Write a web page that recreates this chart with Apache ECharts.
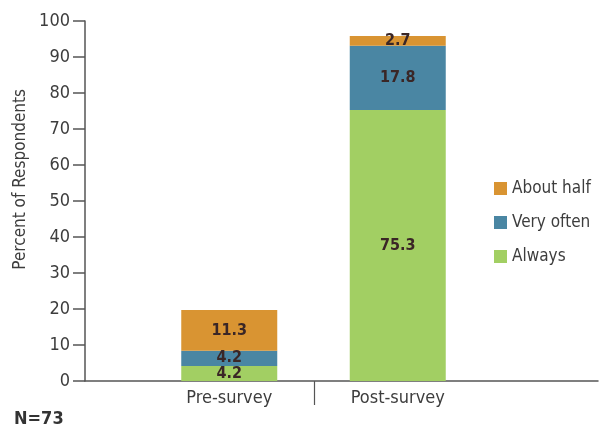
<!DOCTYPE html>
<html>
<head>
<meta charset="utf-8">
<script src="https://cdn.jsdelivr.net/npm/echarts@6/dist/echarts.min.js"></script>
<style>
  html, body { margin: 0; padding: 0; background: #fff; }
  #chart { width: 603px; height: 429px; }
</style>
</head>
<body>
<div id="chart"></div>
<script>
// Survey responses, percent of respondents per answer
const categories = ['Pre-survey', 'Post-survey'];
const always = [4.2, 75.3];
const veryOften = [4.2, 17.8];
const aboutHalf = [11.3, 2.7];
const yTicks = [0, 10, 20, 30, 40, 50, 60, 70, 80, 90, 100];

const FONT = '"Liberation Sans Narrow", "DejaVu Sans Condensed", sans-serif';
const AXIS = '#555';
const TEXT = '#3d3d3d';
const LABEL = '#3a2626';

const chart = echarts.init(document.getElementById('chart'), null, { renderer: 'canvas' });

function seg(name, data, color) {
  return {
    name: name,
    type: 'bar',
    stack: 'total',
    xAxisIndex: 1,
    yAxisIndex: 1,
    barWidth: 96,
    data: data,
    itemStyle: { color: color },
    label: {
      show: true,
      position: 'inside',
      fontFamily: FONT,
      fontWeight: 'bold',
      fontSize: 16,
      color: LABEL
    }
  };
}

chart.setOption({
  animation: false,
  textStyle: { fontFamily: FONT },
  grid: [
    { left: 85, right: 5, top: 21, bottom: 48 },
    { left: 145, right: 121, top: 21, bottom: 48 }
  ],
  xAxis: [
    {
      gridIndex: 0, type: 'value', min: 0, max: 1,
      axisLine: { show: true, lineStyle: { color: AXIS, width: 1.5 } },
      axisTick: { show: false }, axisLabel: { show: false }, splitLine: { show: false }
    },
    {
      gridIndex: 1, type: 'category', data: categories,
      axisLine: { show: false },
      axisTick: { show: false },
      axisLabel: { fontFamily: FONT, fontSize: 18, color: TEXT, margin: 8 },
      splitLine: { show: false }
    }
  ],
  yAxis: [
    {
      gridIndex: 0, type: 'value', min: 0, max: 100, interval: 10,
      axisLine: { show: true, lineStyle: { color: AXIS, width: 1.5 } },
      axisTick: { show: true, length: 12, lineStyle: { color: AXIS, width: 1.5 } },
      axisLabel: {
        fontFamily: FONT, fontSize: 18, color: TEXT, margin: 15,
        formatter: function (v) { return yTicks.indexOf(v) >= 0 ? String(v) : ''; }
      },
      splitLine: { show: false }
    },
    {
      gridIndex: 1, type: 'value', min: 0, max: 100, interval: 10, show: false
    }
  ],
  legend: {
    orient: 'vertical',
    left: 494,
    top: 180,
    padding: 0,
    itemWidth: 13,
    itemHeight: 13,
    itemGap: 17,
    icon: 'rect',
    data: ['About half', 'Very often', 'Always'],
    textStyle: { fontFamily: FONT, fontSize: 17, color: TEXT }
  },
  graphic: [
    {
      id: 'yname', type: 'text', left: 12, top: 89, rotation: Math.PI / 2,
      style: { text: 'Percent of Respondents', font: '17px ' + FONT, fill: TEXT }
    },
    {
      id: 'ncount', type: 'text', left: 14, top: 410,
      style: { text: 'N=73', font: 'bold 18px ' + FONT, fill: '#333' }
    }
  ],
  series: [
    seg('Always', always, '#a2cf63'),
    seg('Very often', veryOften, '#4a86a3'),
    seg('About half', aboutHalf, '#d99432')
  ]
});

// Divider between the two categories, placed halfway between their centres
const c0 = chart.convertToPixel({ xAxisIndex: 1 }, categories[0]);
const c1 = chart.convertToPixel({ xAxisIndex: 1 }, categories[1]);
const base = chart.convertToPixel({ yAxisIndex: 1 }, 0);
const divX = Math.round((c0 + c1) / 2) + 0.5;
chart.setOption({
  graphic: [
    {
      id: 'divider',
      type: 'line',
      shape: { x1: divX, y1: base, x2: divX, y2: base + 24 },
      style: { stroke: AXIS, lineWidth: 1.2 }
    }
  ]
});
</script>
</body>
</html>
